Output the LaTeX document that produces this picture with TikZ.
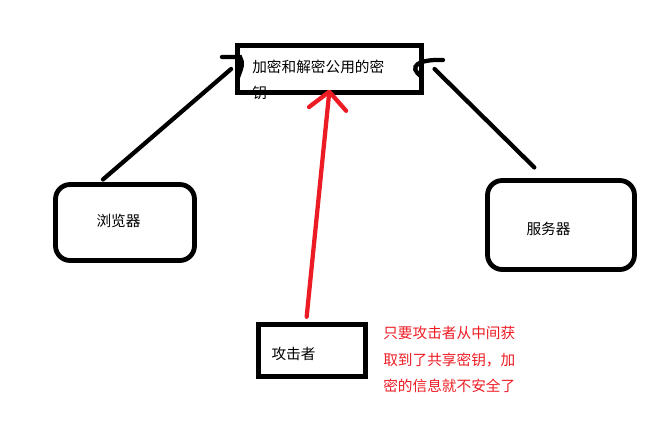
\documentclass[tikz,border=0pt]{standalone}
\usepackage{fontspec}
\setmainfont{Noto Sans CJK SC}
\usetikzlibrary{arrows.meta,calc}
\definecolor{paintred}{RGB}{237,28,36}
\tikzset{
  box/.style={draw, line width=3.6pt, inner sep=0pt},
  rbox/.style={box, rounded corners=11pt},
  lbl/.style={inner sep=0pt, font=\fontsize{11}{20}\selectfont},
  wire/.style={line width=3.2pt, line cap=round},
}
\begin{document}
\begin{tikzpicture}[x=0.75pt, y=-0.75pt]
  \useasboundingbox (0,0) rectangle (658,426);
  % shared key
  \node[box, minimum width=138pt, minimum height=35.25pt] (key) at (329.5,69) {};
  \node[lbl, anchor=west, align=left, text width=120pt] (keytext) at (252,80)
    {加密和解密公用的密\\钥};
  % browser and server
  \node[rbox, minimum width=104.25pt, minimum height=57pt] (brow) at (125,222.5) {};
  \node[lbl] (brtext) at (118.5,221) {浏览器};
  \node[rbox, minimum width=110.25pt, minimum height=66.75pt] (serv) at (561,225) {};
  \node[lbl] (svtext) at (548.5,229) {服务器};
  % attacker
  \node[box, minimum width=80.25pt, minimum height=39pt] (atk) at (312,350.5) {};
  \node[lbl] (attext) at (293.5,354) {攻击者};
  \node[lbl, anchor=north west, align=left, text=paintred] (note) at (383,326)
    {只要攻击者从中间获\\取到了共享密钥，加\\密的信息就不安全了};
  % connectors
  \draw[wire] ([xshift=-16.5pt,yshift=2pt]brow.north) -- ([xshift=-3pt]key.west);
  \draw[wire] (222,57) -- (240,57) .. controls (243,64) .. (237,80);
  \draw[wire] ([xshift=-20pt,yshift=8pt]serv.north) -- ([xshift=8pt]key.east);
  \draw[wire] (443,60) .. controls (420,59) and (406,66) .. (422,77);
  \draw[wire, paintred, -{Straight Barb[length=13pt, width=28pt, round]}]
    ([xshift=-4pt,yshift=4pt]atk.north) -- ([xshift=0pt,yshift=4pt]key.south);
\end{tikzpicture}
\end{document}
